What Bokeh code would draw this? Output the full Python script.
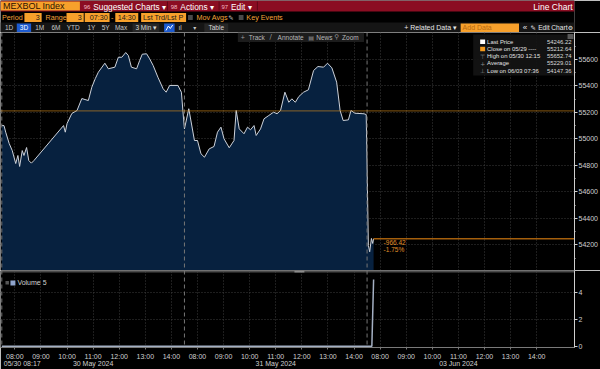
from bokeh.plotting import figure
from bokeh.models import Range1d, FixedTicker, LinearAxis, Label, Span
from bokeh.layouts import column
from bokeh.embed import file_html
from bokeh.resources import INLINE
from bokeh.core.properties import value

FONT = "'Liberation Sans Narrow', 'Arial Narrow', 'Liberation Sans', Arial, sans-serif"
SYM = "'DejaVu Sans', sans-serif"

# ---------------- data ----------------
ticker_name = "MEXBOL Index"
session_dates = ["30 May 2024", "31 May 2024", "03 Jun 2024"]
session_open = "07:30"
session_close = "14:30"
hour_labels = ["08:00", "09:00", "10:00", "11:00", "12:00", "13:00", "14:00"]
price_ticks = [54200, 54400, 54600, 54800, 55000, 55200, 55400, 55600]
volume_ticks = [0, 2, 4]

s1_times = ["07:30", "07:35", "07:39", "07:47", "07:54", "08:02", "08:07", "08:11", "08:17", "08:21",
            "08:27", "08:32", "08:38", "08:44", "09:52", "09:56", "10:00", "10:11", "10:23", "10:34",
            "10:49", "10:57", "11:05", "11:12", "11:27", "11:35", "11:50", "11:58", "12:06", "12:15",
            "12:21", "12:28", "12:40", "12:47", "12:53", "13:03", "13:10", "13:18", "13:29", "13:41",
            "13:48", "13:56", "14:15", "14:23", "14:28"]
s1_prices = [55101, 55101, 55051, 54965, 54912, 54814, 54875, 54792, 54912, 54875,
             54935, 54837, 54817, 54837, 55101, 55051, 55116, 55192, 55215, 55305,
             55290, 55391, 55456, 55504, 55572, 55530, 55542, 55617, 55617, 55652.74,
             55630, 55542, 55530, 55592, 55640, 55643, 55605, 55555, 55466, 55379,
             55353, 55404, 55404, 55353, 55150]

s2_times = ["07:30", "07:40", "07:53", "08:00", "08:08", "08:16", "08:27", "08:38", "08:46", "08:54",
            "09:01", "09:13", "09:24", "09:29", "09:36", "09:47", "09:55", "10:02", "10:10", "10:15",
            "10:25", "10:33", "10:44", "10:55", "11:03", "11:11", "11:21", "11:30", "11:37", "11:45",
            "11:53", "12:04", "12:15", "12:27", "12:37", "12:50", "12:59", "13:09", "13:20", "13:28",
            "13:35", "13:47", "13:53", "14:02", "14:23", "14:28"]
s2_prices = [55076, 55228, 54988, 54988, 54888, 54862, 54925, 54943, 55051, 55089,
             55001, 54933, 54988, 55215, 55076, 55039, 55089, 55069, 55101, 55026,
             55076, 55152, 55177, 55202, 55190, 55215, 55353, 55277, 55303, 55277,
             55320, 55353, 55371, 55517, 55547, 55542, 55572, 55537, 55429, 55215,
             55139, 55144, 55215, 55194, 55190, 55184]

s3_times = ["07:33", "07:36", "07:40", "07:43", "07:45"]
s3_prices = [54195, 54147.36, 54248, 54210, 54246.22]

vol_sessions = [0, 0, 1, 1, 2, 2, 2]
vol_times = ["07:30", "14:30", "07:30", "14:30", "07:30", "07:41", "07:45"]
vol_values = [0, 0, 0, 0, 0, 0, 5]

last_price = 54246.22
prev_close = 55212.64
prev_close_label = "Close on 05/29"
high_price = 55652.74
high_label = "High on 05/30 12:15"
avg_price = 55229.01
low_price = 54147.36
low_label = "Low on 06/03 07:36"
cursor_session = 0
cursor_clock = "08:17"
cursor_time = "05/30 08:17"
cursor_price = 55741.6
cursor_volume = 0

# ---------------- helpers ----------------
def hm(t):
    h, m = t.split(":")
    return int(h) * 60 + int(m)

OPEN = hm(session_open)
SESSION_LEN = hm(session_close) - OPEN


def to_m(s, t):
    return s * SESSION_LEN + hm(t) - OPEN


m_all = [to_m(0, t) for t in s1_times] + [to_m(1, t) for t in s2_times] + [to_m(2, t) for t in s3_times]
p_all = s1_prices + s2_prices + s3_prices
vol_m = [to_m(s, t) for s, t in zip(vol_sessions, vol_times)]
hour_pos = [to_m(s, h) for s in range(3) for h in hour_labels]
hour_lab = {to_m(s, h): h for s in range(3) for h in hour_labels}
date_pos = [to_m(s, "11:00") for s in range(3)]
cursor_m = to_m(cursor_session, cursor_clock)
date_lab = {p: d for p, d in zip(date_pos, session_dates)}
date_lab[cursor_m] = cursor_time
session_starts = [s * SESSION_LEN for s in range(3)]

ORANGE = "#f7a02b"
ORANGE_TXT = "#f2a33a"
GRID = "#3c3c3c"
AXIS = "#cfcfcf"


def txt(fig, x, y, s, color="#c8c8c8", size="7px", align="left", font=FONT, **kw):
    fig.text(x=[x], y=[y], text=[s], text_color=color, text_font=value(font),
             text_font_size=size, text_align=align, text_baseline="middle", **kw)


def box(fig, l, r, t, b, color, alpha=1.0, **kw):
    fig.quad(left=[l], right=[r], top=[t], bottom=[b], fill_color=color,
             fill_alpha=alpha, line_color=None, **kw)


def style_axis(ax, size="7px"):
    ax.axis_line_color = AXIS
    ax.major_tick_line_color = AXIS
    ax.minor_tick_line_color = AXIS
    ax.major_tick_out = 3
    ax.major_tick_in = 0
    ax.minor_tick_out = 1
    ax.minor_tick_in = 0
    ax.major_label_standoff = 1
    ax.major_label_text_color = "#d0d0d0"
    ax.major_label_text_font = FONT
    ax.major_label_text_font_size = size


# ---------------- header ----------------
hdr = figure(width=600, height=32, x_range=Range1d(0, 600), y_range=Range1d(32, 0),
             x_axis_location=None, y_axis_location=None, output_backend="svg",
             toolbar_location=None, min_border=0, background_fill_color="#000000",
             border_fill_color="#000000", outline_line_color=None)
hdr.grid.visible = False

box(hdr, 0, 600, 0, 11, "#8b0d22")
box(hdr, 0, 83, 1, 10, ORANGE)
txt(hdr, 2.5, 5.8, ticker_name, "#2a1200", "9px")
for num, lbl, x0, x1 in [("96", "Suggested Charts \u25be", 86, 174),
                         ("98", "Actions \u25be", 177, 228),
                         ("97", "Edit \u25be", 230, 268)]:
    box(hdr, x1, x1 + 1, 1, 10, "#5c0615")
    txt(hdr, x0 + 1, 6, num, "#f3b9c3", "6px")
    txt(hdr, x0 + 11, 6, lbl, "#ffffff", "8.3px")
txt(hdr, 598, 6, "Line Chart", "#ffffff", "8.5px", align="right")

# row 2
txt(hdr, 1.5, 17, "Period", ORANGE_TXT, "7.2px")
box(hdr, 25, 43, 12.5, 21.5, ORANGE)
txt(hdr, 41, 17, "3", "#1a1a1a", "7.2px", align="right")
txt(hdr, 47, 17, "Range", ORANGE_TXT, "7.2px")
box(hdr, 69, 87, 12.5, 21.5, ORANGE)
txt(hdr, 85, 17, "3", "#1a1a1a", "7.2px", align="right")
box(hdr, 88, 114, 12.5, 21.5, ORANGE)
txt(hdr, 112, 17, session_open, "#1a1a1a", "7.2px", align="right")
txt(hdr, 115.5, 17, "-", ORANGE_TXT, "7.2px")
box(hdr, 120, 144, 12.5, 21.5, ORANGE)
txt(hdr, 122.5, 17, session_close, "#1a1a1a", "7.2px")
box(hdr, 147, 194, 12.5, 21.5, ORANGE)
txt(hdr, 149, 17, "Lst Trd/Lst P", "#1a1a1a", "7.2px")
box(hdr, 196, 201, 14.5, 19.5, "#4a4a4a")
txt(hdr, 205, 17, "Mov Avgs", ORANGE_TXT, "7.2px")
txt(hdr, 238, 17, "\u270e", "#cccccc", "6.5px", font=SYM)
box(hdr, 249, 254, 14.5, 19.5, "#4a4a4a")
txt(hdr, 257, 17, "Key Events", ORANGE_TXT, "7.2px")

# row 3
box(hdr, 0, 600, 22, 32, "#151515")
for lbl, cx in [("1D", 9), ("1M", 41), ("6M", 58), ("YTD", 76), ("1Y", 95), ("5Y", 110), ("Max", 126)]:
    txt(hdr, cx, 27, lbl, "#c8c8c8", "6.5px", align="center")
box(hdr, 17, 32, 23, 31.5, "#1d5bd0")
txt(hdr, 24.5, 27, "3D", "#ffffff", "6.5px", align="center")
box(hdr, 138, 166, 23, 31.5, "#262626")
txt(hdr, 141, 27, "3 Min \u25be", "#d8d8d8", "6.5px")
box(hdr, 171, 182, 23, 31.5, "#1d5bd0")
hdr.line(x=[173, 175.5, 177.5, 180], y=[30, 25.5, 28, 24.5], line_color="#ffffff", line_width=1)
txt(hdr, 186, 27, "\u0131l", "#c8c8c8", "6.5px")
txt(hdr, 203, 27, "\u25be", "#c8c8c8", "6px", font=SYM, align="center")
box(hdr, 213, 238, 23, 31.5, "#262626")
txt(hdr, 225.5, 27, "Table", "#d8d8d8", "6.5px", align="center")
txt(hdr, 422, 27, "+ Related Data \u25be", "#e6e6e6", "7px")
box(hdr, 481, 542, 23, 31.5, ORANGE)
txt(hdr, 483, 27, "Add Data", "#b86a10", "7px")
txt(hdr, 546, 27, "\u00ab", "#e6e6e6", "8px")
txt(hdr, 554, 27, "\u270e", "#e6e6e6", "6.5px", font=SYM)
txt(hdr, 562, 27, "Edit Chart", "#e6e6e6", "6.6px")
txt(hdr, 593, 27, "\u2699", "#e6e6e6", "6px", font=SYM)

# ---------------- main price chart ----------------
xr = Range1d(-3, 1317)
main = figure(width=600, height=238, x_range=xr, y_range=Range1d(54006, 55804),
              x_axis_location=None, y_axis_location="right", output_backend="svg",
              toolbar_location=None, background_fill_color="#000000",
              border_fill_color="#000000", outline_line_color=None,
              min_border=0, min_border_right=22)
main.extra_x_ranges = {"px": Range1d(0, 578)}
main.extra_y_ranges = {"py": Range1d(238, 0)}

main.yaxis.ticker = FixedTicker(ticks=price_ticks, minor_ticks=[t + 100 for t in price_ticks] + [price_ticks[0] - 100])
style_axis(main.yaxis[0])
main.xgrid.ticker = FixedTicker(ticks=hour_pos)
main.ygrid.ticker = FixedTicker(ticks=price_ticks)
for g in (main.xgrid[0], main.ygrid[0]):
    g.grid_line_color = GRID
    g.grid_line_dash = "1 2"
    g.grid_line_width = 1

main.varea(x=m_all, y1=main.y_range.start, y2=p_all, fill_color="#07213f")
main.line(x=m_all, y=p_all, line_color="#cdd2da", line_width=1)

for s0 in session_starts:
    main.add_layout(Span(location=s0, dimension="height", line_color="#767676",
                         line_dash="4 3", line_width=1))
main.add_layout(Span(location=prev_close, dimension="width", line_color="#d88c1c",
                     line_dash="1 1", line_width=1.3))
main.segment(x0=[m_all[-1]], y0=[last_price], x1=[xr.end], y1=[last_price],
             line_color="#a45f0c", line_width=1.5)

change = last_price - prev_close
pct = change / prev_close * 100
main.text(x=[m_all[-1], m_all[-1]], y=[last_price, last_price],
          text=[f"{change:.2f}", f"{pct:.2f}%"], x_offset=[10, 10], y_offset=[4, 11],
          text_color="#e0902a", text_font=value(FONT), text_font_size="6.5px",
          text_baseline="middle")

# toolbar strip
PXK = dict(x_range_name="px", y_range_name="py")
box(main, 239, 366, 0, 9.5, "#1c1c1c", **PXK)
txt(main, 242, 4.8, "+", "#9a9a9a", "7px", **PXK)
txt(main, 250, 4.8, "Track", "#b8b8b8", "6.5px", **PXK)
txt(main, 271, 4.8, "\u2215", "#9a9a9a", "7px", font=SYM, **PXK)
txt(main, 279, 4.8, "Annotate", "#b8b8b8", "6.5px", **PXK)
txt(main, 310, 4.8, "\u25a4", "#9a9a9a", "6px", font=SYM, **PXK)
txt(main, 318, 4.8, "News", "#b8b8b8", "6.5px", **PXK)
txt(main, 336, 4.8, "\u26b2", "#9a9a9a", "6.5px", font=SYM, **PXK)
txt(main, 344, 4.8, "Zoom", "#b8b8b8", "6.5px", **PXK)

# legend panel
box(main, 476, 578, 2, 43, "#141414", alpha=0.92, **PXK)
box(main, 571, 577, 1.5, 6.5, "#5a5a5a", **PXK)
box(main, 483, 488, 7, 11.5, "#ffffff", **PXK)
box(main, 483, 488, 14.3, 18.8, "#f39a1e", **PXK)
txt(main, 485.5, 23.7, "\u22a4", "#8a8a8a", "6px", align="center", font=SYM, **PXK)
txt(main, 485.5, 30.7, "+", "#8a8a8a", "6px", align="center", font=SYM, **PXK)
txt(main, 485.5, 38, "\u22a5", "#8a8a8a", "6px", align="center", font=SYM, **PXK)
leg_rows = [("Last Price", last_price, 9.3), (prev_close_label + " ----", prev_close, 16.5),
            (high_label, high_price, 23.7), ("Average", avg_price, 30.7), (low_label, low_price, 38)]
for name, val, yy in leg_rows:
    txt(main, 490, yy, name, "#e2e2e2", "5.9px", **PXK)
    txt(main, 575, yy, f"{val:.2f}", "#d8d8d8", "5.9px", align="right", **PXK)

main.add_layout(Label(x=579, y=cursor_price, x_range_name="px", text=f"{cursor_price}",
                      text_font=FONT, text_font_size="6px", text_baseline="middle",
                      text_color="#0a3550", background_fill_color="#a5dcf2", padding=1))
main.add_layout(Label(x=579, y=last_price, x_range_name="px", text=f"{last_price:.1f}",
                      text_font=FONT, text_font_size="6px", text_baseline="middle",
                      text_color="#000000", background_fill_color="#ffffff", padding=1))

# ---------------- volume panel ----------------
vol = figure(width=600, height=99, x_range=xr, y_range=Range1d(-0.1, 5.68),
             y_axis_location="right", x_axis_location="below", output_backend="svg",
             toolbar_location=None, background_fill_color="#000000",
             border_fill_color="#000000", outline_line_color=None,
             min_border=0, min_border_right=22)
vol.extra_x_ranges = {"px": Range1d(0, 578)}
vol.extra_y_ranges = {"py": Range1d(77, 0)}

vol.yaxis.ticker = FixedTicker(ticks=volume_ticks)
style_axis(vol.yaxis[0])
vol.xaxis.ticker = FixedTicker(ticks=hour_pos)
vol.xaxis.major_label_overrides = hour_lab
style_axis(vol.xaxis[0])
vol.xaxis.axis_line_color = "#7a7a7a"
vol.xaxis.major_tick_line_color = "#7a7a7a"
vol.xaxis.major_tick_out = 2
vol.xaxis.minor_tick_out = 0
vol.xaxis.major_label_standoff = 3

date_axis = LinearAxis(ticker=FixedTicker(ticks=sorted(date_lab)), major_label_overrides=date_lab)
style_axis(date_axis)
date_axis.axis_line_color = None
date_axis.major_tick_line_color = None
date_axis.minor_tick_line_color = None
date_axis.major_tick_out = 0
date_axis.minor_tick_out = 0
date_axis.major_label_standoff = -3
vol.add_layout(date_axis, "below")

vol.xgrid.ticker = FixedTicker(ticks=hour_pos)
vol.ygrid.ticker = FixedTicker(ticks=volume_ticks[1:])
for g in (vol.xgrid[0], vol.ygrid[0]):
    g.grid_line_color = GRID
    g.grid_line_dash = "1 2"

for s0 in session_starts:
    vol.add_layout(Span(location=s0, dimension="height", line_color="#767676",
                        line_dash="4 3", line_width=1))

vol.line(x=vol_m, y=vol_values, line_color="#a4b0c4", line_width=1.5)

box(vol, 0, 578, 0, 2, "#4a4a4a", **PXK)
box(vol, 296, 306, 0, 2, "#8a8a8a", **PXK)
box(vol, 5, 8.5, 10.5, 14, "#555555", **PXK)
box(vol, 10, 15, 10, 15, "#8fa4cc", **PXK)
txt(vol, 17, 12.3, f"Volume {vol_values[-1]}", "#d0d0d0", "7px", **PXK)

vol.add_layout(Label(x=579, y=vol_values[-1], x_range_name="px", text=f"{vol_values[-1]}     ",
                     text_font=FONT, text_font_size="7px", text_baseline="middle",
                     text_color="#ffffff", background_fill_color="#7088b4", padding=1))
vol.add_layout(Label(x=579, y=cursor_volume, x_range_name="px", text=f"{cursor_volume}     ",
                     text_font=FONT, text_font_size="7px", text_baseline="bottom",
                     text_color="#000000", background_fill_color="#ffffff", padding=1))

layout = column(hdr, main, vol, spacing=0)
open("out.html", "w").write(file_html(layout, INLINE))
